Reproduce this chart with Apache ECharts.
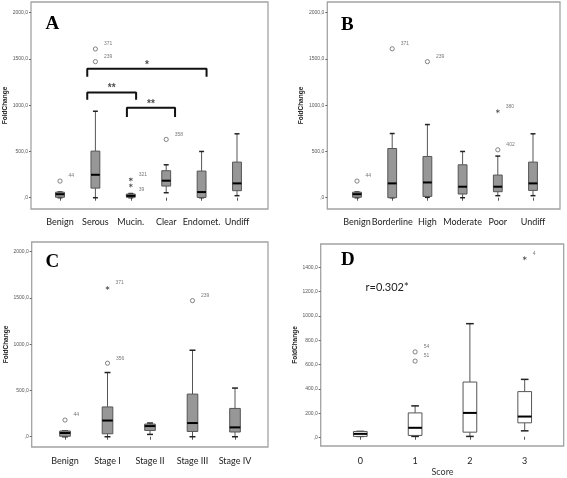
<!DOCTYPE html>
<html><head><meta charset="utf-8">
<script src="https://cdn.jsdelivr.net/npm/echarts@6/dist/echarts.min.js"></script>
<style>html,body{margin:0;padding:0;background:#fff}#c{width:567px;height:478px}</style>
</head><body><div id="c"></div>
<script>
// ---------- DATA ----------
const catsA = ['Benign','Serous','Mucin.','Clear','Endomet.','Undiff'];
// [min, q1, median, q3, max]
const boxesA = [[0,5,38,60,62],[0,104,248,504,935],[0,5,20,40,45],[54,126,184,292,356],[0,3,61,288,500],[22,76,155,385,691]];
// [category index, value, case label, marker type]
const outliersA = [[0,180,'44','o'],[1,1608,'371','o'],[1,1471,'239','o'],[2,198,'321','*'],[2,133,'39','*'],[3,630,'358','o']];
// significance brackets: [x start, x end, top value, leg end value, text]
const bracketsA = [[0.77,4.14,1393,1307,'*'],[0.77,2.15,1137,1058,'**'],[1.89,3.25,972,874,'**']];

const catsB = ['Benign','Borderline','High','Moderate','Poor','Undiff'];
const boxesB = [[0,5,38,60,62],[0,0,155,532,694],[4,14,165,446,791],[0,40,119,356,500],[22,65,119,245,450],[22,79,155,385,691]];
const outliersB = [[0,180,'44','o'],[1,1610,'371','o'],[2,1471,'239','o'],[4,935,'380','*'],[4,518,'402','o']];

const catsC = ['Benign','Stage I','Stage II','Stage III','Stage IV'];
const boxesC = [[0,5,40,62,62],[0,32,175,322,694],[25,68,115,137,148],[0,57,148,461,935],[0,51,101,306,526]];
const outliersC = [[0,180,'44','o'],[1,1608,'371','*'],[1,795,'356','o'],[3,1471,'239','o']];

const catsD = ['0','1','2','3'];
const boxesD = [[3,3,24,44,44],[3,11,74,197,255],[3,38,197,452,934],[49,115,167,373,474]];
const outliersD = [[1,701,'54','o'],[1,625,'51','o'],[3,1474,'4','*']];

const ticks2000 = [0,500,1000,1500,2000];
const ticks1400 = [0,200,400,600,800,1000,1200,1400];
const corrText = 'r=0.302*';

// ---------- BUILD ----------
const grids = [], xAxes = [], yAxes = [], series = [], titles = [];
const fmt = v => v === 0 ? ',0' : v.toFixed(1).replace('.', ',');
const starPath = 'path://M4.2,0h1.6v3.6l3.1-1.8 0.8,1.4-3.1,1.8 3.1,1.8-0.8,1.4-3.1-1.8v3.6h-1.6v-3.6l-3.1,1.8-0.8-1.4 3.1-1.8-3.1-1.8 0.8-1.4 3.1,1.8z';

function boxRender(fill) {
  return function (params, api) {
    const x = api.value(0);
    const p = [1,2,3,4,5].map(i => api.coord([x, api.value(i)]));
    const bw = api.size([1, 0])[0];
    const hw = bw * 0.125, cw = bw * 0.07;
    const cx = p[0][0];
    const wl = {stroke: '#555', lineWidth: 1};
    const cap = {stroke: '#222', lineWidth: 1.5};
    return {type: 'group', children: [
      {type: 'line', shape: {x1: cx, y1: p[4][1], x2: cx, y2: p[3][1]}, style: wl},
      {type: 'line', shape: {x1: cx, y1: p[1][1], x2: cx, y2: p[0][1]}, style: wl},
      {type: 'line', shape: {x1: cx - cw, y1: p[4][1], x2: cx + cw, y2: p[4][1]}, style: cap},
      {type: 'line', shape: {x1: cx - cw, y1: p[0][1], x2: cx + cw, y2: p[0][1]}, style: cap},
      {type: 'rect', shape: {x: cx - hw, y: p[3][1], width: 2 * hw, height: Math.max(p[1][1] - p[3][1], 1)}, style: {fill: fill, stroke: '#555', lineWidth: 1}},
      {type: 'line', shape: {x1: cx - hw, y1: p[2][1], x2: cx + hw, y2: p[2][1]}, style: {stroke: '#000', lineWidth: 2}}
    ]};
  };
}

function panel(cfg) {
  const gFrame = grids.length;
  grids.push({left: cfg.frame[0], top: cfg.frame[1], width: cfg.frame[2], height: cfg.frame[3], show: true,
    borderColor: '#a3a3a3', borderWidth: 1.3, backgroundColor: 'transparent', containLabel: false});
  const gData = grids.length;
  grids.push({left: cfg.data[0], top: cfg.frame[1], width: cfg.data[1], height: cfg.frame[3], containLabel: false});
  const n = cfg.cats.length;
  const xf = xAxes.length;
  xAxes.push({type: 'value', gridIndex: gFrame, show: false, min: 0, max: 1});
  const yf = yAxes.length;
  yAxes.push({type: 'value', gridIndex: gFrame, min: cfg.yr[0], max: cfg.yr[1],
    name: 'FoldChange', nameLocation: 'middle', nameGap: 21, nameRotate: 90,
    nameTextStyle: {fontFamily: 'Liberation Sans', fontWeight: 'bold', fontSize: 6.5, color: '#222'},
    axisLine: {show: false}, splitLine: {show: false},
    axisTick: {show: true, length: 2, customValues: cfg.ticks, lineStyle: {color: '#666', width: 1}},
    axisLabel: {customValues: cfg.ticks, formatter: fmt, fontSize: 5, margin: 3, color: '#555', fontFamily: 'Liberation Sans'}});
  const xc = xAxes.length;
  xAxes.push({type: 'category', gridIndex: gData, data: cfg.cats, boundaryGap: true,
    name: cfg.xName || '', nameLocation: 'middle', nameGap: 23,
    nameTextStyle: {fontFamily: 'Lato', fontSize: 9, color: '#333'},
    axisLine: {show: false}, splitLine: {show: false},
    axisTick: {show: true, alignWithLabel: true, length: 3, lineStyle: {color: '#555'}},
    axisLabel: {fontFamily: 'Lato', fontSize: 9, color: '#222', margin: cfg.labelMargin || 9, interval: 0, hideOverlap: false}});
  const xv = xAxes.length;
  xAxes.push({type: 'value', gridIndex: gData, show: false, min: -0.5, max: n - 0.5});
  const yd = yAxes.length;
  yAxes.push({type: 'value', gridIndex: gData, show: false, min: cfg.yr[0], max: cfg.yr[1]});

  series.push({type: 'custom', xAxisIndex: xc, yAxisIndex: yd, renderItem: boxRender(cfg.fill),
    encode: {x: 0, y: [1,2,3,4,5]}, silent: true,
    data: cfg.boxes.map((b, i) => [i].concat(b))});
  series.push({type: 'scatter', xAxisIndex: xc, yAxisIndex: yd, silent: true,
    data: cfg.outliers.map(o => ({value: [o[0], o[1]], name: o[2],
      symbol: o[3] === 'o' ? 'circle' : starPath,
      symbolSize: o[3] === 'o' ? 4.2 : 4,
      itemStyle: o[3] === 'o' ? {color: '#fff', borderColor: '#555', borderWidth: 0.9} : {color: '#222'},
      label: {offset: (cfg.labelDown || []).includes(o[2]) ? [1, 4] : [1, -5]}
    })),
    label: {show: true, position: 'right', formatter: '{b}', fontSize: 5, color: '#555', fontFamily: 'Liberation Sans'}});
  (cfg.brackets || []).forEach(b => {
    series.push({type: 'line', xAxisIndex: xv, yAxisIndex: yd, silent: true, symbol: 'none',
      lineStyle: {color: '#111', width: 2}, animation: false,
      data: [[b[0], b[3]], [b[0], b[2]], [b[1], b[2]], [b[1], b[3]]]});
    series.push({type: 'scatter', xAxisIndex: xv, yAxisIndex: yd, silent: true, symbolSize: 0,
      data: [{value: [(b[0] + b[1]) / 2, b[2]], name: b[4]}],
      label: {show: true, position: 'top', distance: -1, formatter: '{b}', fontSize: 10, fontWeight: 'bold', color: '#222', fontFamily: 'Liberation Sans'}});
  });
  titles.push({text: cfg.letter, left: cfg.letterPos[0], top: cfg.letterPos[1],
    textStyle: {fontFamily: 'Liberation Serif', fontWeight: 'bold', fontSize: 19, color: '#000'}});
}

panel({cats: catsA, boxes: boxesA, outliers: outliersA, brackets: bracketsA, labelDown: ['39'],
  frame: [31, 2, 237, 207], data: [42.3, 212.4], yr: [-122, 2116], ticks: ticks2000, fill: '#979797',
  letter: 'A', letterPos: [40.5, 10]});
panel({cats: catsB, boxes: boxesB, outliers: outliersB,
  frame: [327.3, 2, 232.7, 207], data: [339.4, 211.2], yr: [-122, 2116], ticks: ticks2000, fill: '#979797',
  letter: 'B', letterPos: [336, 11]});
panel({cats: catsC, boxes: boxesC, outliers: outliersC,
  frame: [31.7, 242, 236.3, 205], data: [43.75, 212.5], yr: [-111, 2105], ticks: ticks2000, fill: '#979797',
  letter: 'C', letterPos: [40.5, 248], labelMargin: 10});
panel({cats: catsD, boxes: boxesD, outliers: outliersD, xName: 'Score',
  frame: [320.7, 244, 243, 202], data: [332.9, 219.2], yr: [-68, 1592], ticks: ticks1400, fill: '#ffffff',
  letter: 'D', letterPos: [336, 246], labelMargin: 12});
titles.push({text: corrText, left: 360.5, top: 277,
  textStyle: {fontFamily: 'Lato', fontWeight: 'normal', fontSize: 11, color: '#222'}});

const chart = echarts.init(document.getElementById('c'), null, {renderer: 'canvas'});
chart.setOption({backgroundColor: '#fff', animation: false, title: titles, grid: grids,
  xAxis: xAxes, yAxis: yAxes, series: series});
</script></body></html>
